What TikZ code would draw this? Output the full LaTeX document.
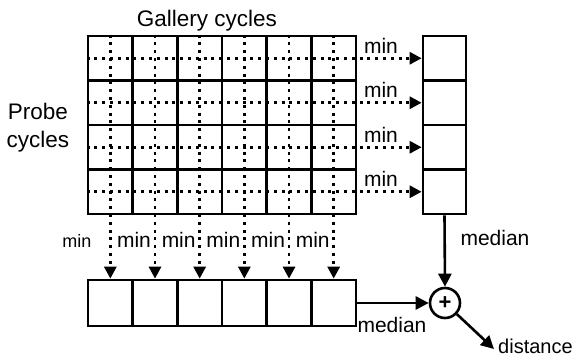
\documentclass[tikz,border=0pt]{standalone}
\usepackage{fontspec}
\setmainfont{Liberation Sans}
\usetikzlibrary{arrows.meta}
\begin{document}
\begin{tikzpicture}[x=1pt,y=-1pt,
  cell/.style={draw, line width=2.7pt, minimum width=44.67pt, minimum height=44.5pt, inner sep=0pt},
  dots/.style={line width=2.9pt, dash pattern=on 2.9pt off 4.9pt, -{Triangle[length=12pt,width=12pt]}},
  solidarrow/.style={line width=2.6pt, -{Triangle[length=13pt,width=13pt]}},
  lbl/.style={font=\fontsize{21}{24}\selectfont, inner sep=0pt},
  big/.style={font=\fontsize{22.5}{28}\selectfont, inner sep=0pt}]
\useasboundingbox (0,0) rectangle (574,358);
% score matrix and the column of row minima
\foreach \i in {1,...,4} {
  \foreach \j in {1,...,6} {
    \node[cell] (c-\i-\j) at ({88+44.67*(\j-0.5)}, {36+44.5*(\i-0.5)}) {};
  }
  \node[cell, minimum width=43pt] (r-\i) at (444.5, {36+44.5*(\i-0.5)}) {};
}
% row of column minima
\foreach \j in {1,...,6}
  \node[cell, minimum height=46pt] (b-\j) at ({88+44.67*(\j-0.5)}, 303) {};
% combining node
\node[circle, draw, line width=2.6pt, minimum size=30pt, inner sep=0pt,
      font=\fontsize{22}{24}\selectfont\bfseries] (sum) at (445,303) {+};
% row minima
\foreach \i in {1,...,4} {
  \draw[dots] (c-\i-1.west) -- (r-\i.west);
  \node[lbl, anchor=base] (minr-\i) at (381, {36+44.5*(\i-0.5)-5}) {min};
}
% column minima
\foreach \j in {1,...,6}
  \draw[dots] (c-1-\j.north) -- (b-\j.north);
\node[font=\fontsize{18}{20}\selectfont, inner sep=0pt, anchor=base] (minb-1) at (77,248) {min};
\foreach \j in {2,...,6}
  \node[lbl, anchor=base] (minb-\j) at ({88+44.67*(\j-0.5)-21}, 248) {min};
% medians and result
\draw[solidarrow] (r-4.south) -- (sum.north);
\node[lbl, anchor=base] (medr) at (495,246) {median};
\draw[solidarrow] (b-6.east) -- (sum.west);
\node[lbl, anchor=base] (medb) at (392,333) {median};
\coordinate (out) at (494,349);
\draw[solidarrow] (sum) -- (out);
\node[font=\fontsize{20}{22}\selectfont, inner sep=0pt, anchor=base west] (dist) at (498,354) {distance};
% axis captions
\node[big, anchor=base] (gal) at (207,27) {Gallery cycles};
\node[big, align=center] (probe) at (38,128) {Probe\\cycles};
\end{tikzpicture}
\end{document}
